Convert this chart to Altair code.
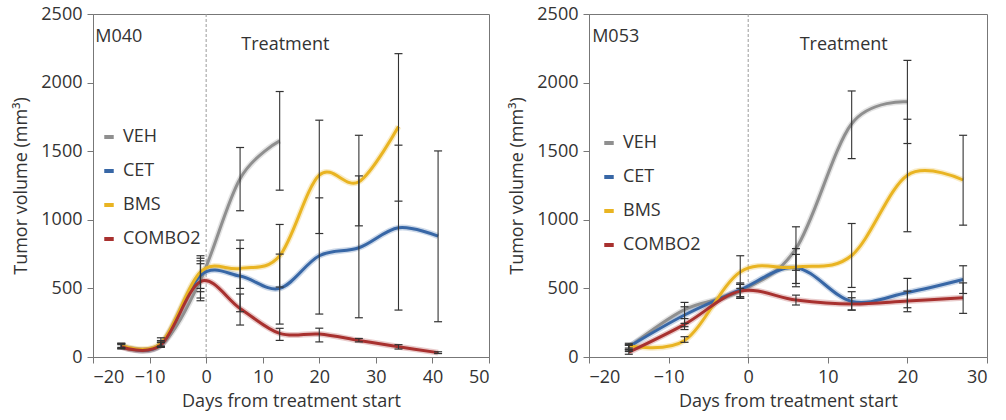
import altair as alt
import pandas as pd

SERIES = ["VEH", "CET", "BMS", "COMBO2"]
COLORS = ["#8f8f8f", "#3867a6", "#e9b422", "#a8312f"]

# ---------------- M040 ----------------
m040_days = [-15, -8, -1, 6, 13, 20, 27, 34, 41]
m040_veh = [75, 85, 560, 1300, 1575]
m040_veh_lo = [60, 70, 410, 1066, 1216]
m040_veh_hi = [100, 120, 720, 1527, 1935]
m040_cet = [80, 90, 595, 590, 500, 738, 796, 942, 881]
m040_cet_lo = [65, 75, 476, 330, 240, 313, 286, 342, 257]
m040_cet_hi = [95, 110, 701, 852, 750, 1160, 1320, 1544, 1502]
m040_bms = [85, 100, 620, 645, 738, 1325, 1277, 1680]
m040_bms_lo = [70, 80, 500, 500, 510, 900, 956, 1136]
m040_bms_hi = [100, 140, 738, 791, 966, 1726, 1616, 2211]
m040_combo = [73, 88, 550, 354, 172, 167, 121, 75, 32]
m040_combo_lo = [60, 75, 430, 233, 121, 110, 110, 58, 25]
m040_combo_hi = [90, 105, 680, 459, 209, 210, 135, 90, 38]

# ---------------- M053 ----------------
m053_days = [-15, -8, -1, 6, 13, 20, 27]
m053_veh = [70, 345, 480, 790, 1700, 1860]
m053_veh_lo = [40, 221, 430, 632, 1446, 1556]
m053_veh_hi = [85, 398, 540, 949, 1939, 2162]
m053_cet = [75, 306, 490, 651, 405, 470, 565]
m053_cet_lo = [50, 245, 440, 512, 342, 359, 463]
m053_cet_hi = [90, 366, 530, 790, 476, 573, 665]
m053_bms = [83, 120, 620, 655, 740, 1325, 1290]
m053_bms_lo = [65, 107, 500, 536, 507, 913, 961]
m053_bms_hi = [100, 148, 738, 748, 973, 1733, 1616]
m053_combo = [35, 238, 480, 415, 386, 408, 432]
m053_combo_lo = [20, 200, 427, 379, 342, 330, 318]
m053_combo_hi = [55, 280, 529, 451, 432, 480, 540]

FONT = "Open Sans"
Y_TITLE = "Tumor volume (mm³)"
X_TITLE = "Days from treatment start"


def build(days, groups):
    rows = []
    for name, (vals, lo, hi) in zip(SERIES, groups):
        for d, v, l, h in zip(days, vals, lo, hi):
            rows.append({"day": d, "vol": v, "lo": l, "hi": h, "series": name})
    return pd.DataFrame(rows)


df040 = build(m040_days, [(m040_veh, m040_veh_lo, m040_veh_hi),
                          (m040_cet, m040_cet_lo, m040_cet_hi),
                          (m040_bms, m040_bms_lo, m040_bms_hi),
                          (m040_combo, m040_combo_lo, m040_combo_hi)])
df053 = build(m053_days, [(m053_veh, m053_veh_lo, m053_veh_hi),
                          (m053_cet, m053_cet_lo, m053_cet_hi),
                          (m053_bms, m053_bms_lo, m053_bms_hi),
                          (m053_combo, m053_combo_lo, m053_combo_hi)])


def panel(df, xmax, label, treat_day, width, leg_x, leg_y):
    xs = alt.Scale(domain=[-20, xmax], nice=False, zero=False)
    ys = alt.Scale(domain=[0, 2500], nice=False)
    xaxis = alt.Axis(values=list(range(-20, xmax + 1, 10)), title=X_TITLE, format="d")
    yaxis = alt.Axis(values=list(range(0, 2501, 500)), title=Y_TITLE, format="d")
    x = alt.X("day:Q", scale=xs, axis=xaxis)
    color = alt.Color(
        "series:N",
        scale=alt.Scale(domain=SERIES, range=COLORS),
        sort=SERIES,
        legend=alt.Legend(
            orient="none", legendX=leg_x, legendY=leg_y, title=None,
            symbolType="stroke", symbolStrokeWidth=4, symbolSize=90,
            labelFontSize=18, labelFont=FONT, labelColor="#333",
            rowPadding=16, labelOffset=5, symbolOpacity=1,
        ),
    )
    base = alt.Chart(df)
    halo = base.mark_line(interpolate="cardinal", strokeWidth=6, opacity=0.25).encode(
        x=x, y=alt.Y("vol:Q", scale=ys, axis=yaxis), color=color)
    line = base.mark_line(interpolate="cardinal", strokeWidth=3).encode(
        x=x, y=alt.Y("vol:Q", scale=ys, axis=yaxis), color=color)
    err = base.mark_rule(color="#333", strokeWidth=1.1).encode(
        x=x, y=alt.Y("lo:Q", scale=ys, axis=yaxis), y2="hi:Q")
    caps = base.transform_fold(["lo", "hi"], as_=["k", "v"]).mark_point(
        shape="stroke", size=64, color="#333", strokeWidth=1.2, opacity=1, filled=False).encode(
        x=x, y=alt.Y("v:Q", scale=ys, axis=yaxis))
    one = pd.DataFrame({"label": [label], "t": ["Treatment"]})
    vline = alt.Chart(one).mark_rule(color="#9a9a9a", strokeDash=[3, 2], strokeWidth=1).encode(
        x=alt.datum(0))
    tag = alt.Chart(one).mark_text(align="left", baseline="middle", font=FONT,
                                   fontSize=18, color="#333").encode(
        x=alt.datum(-19.6), y=alt.datum(2330), text="label:N")
    treat = alt.Chart(one).mark_text(align="center", baseline="middle", font=FONT,
                                     fontSize=18, color="#333").encode(
        x=alt.datum(treat_day), y=alt.datum(2277), text="t:N")
    return alt.layer(vline, halo, line, err, caps, tag, treat).properties(width=width, height=343)


left = panel(df040, 50, "M040", 14, 396, 7, 114)
right = panel(df053, 30, "M053", 12, 398, 11, 120)

chart = alt.hconcat(left, right, spacing=18).resolve_scale(color="independent").properties(
    padding={"left": 12, "top": 4, "right": 5, "bottom": 5}
).configure_view(stroke="#777", strokeWidth=1).configure_axis(
    grid=False, domainColor="#777", tickColor="#777", tickSize=6,
    labelFont=FONT, labelFontSize=18, labelColor="#333", labelPadding=5,
    titleFont=FONT, titleFontSize=18, titleFontWeight="normal", titleColor="#333",
).configure_axisY(titlePadding=10).configure_axisX(titlePadding=6)

chart.save("out.html", embed_options={"renderer": "svg", "actions": False})
